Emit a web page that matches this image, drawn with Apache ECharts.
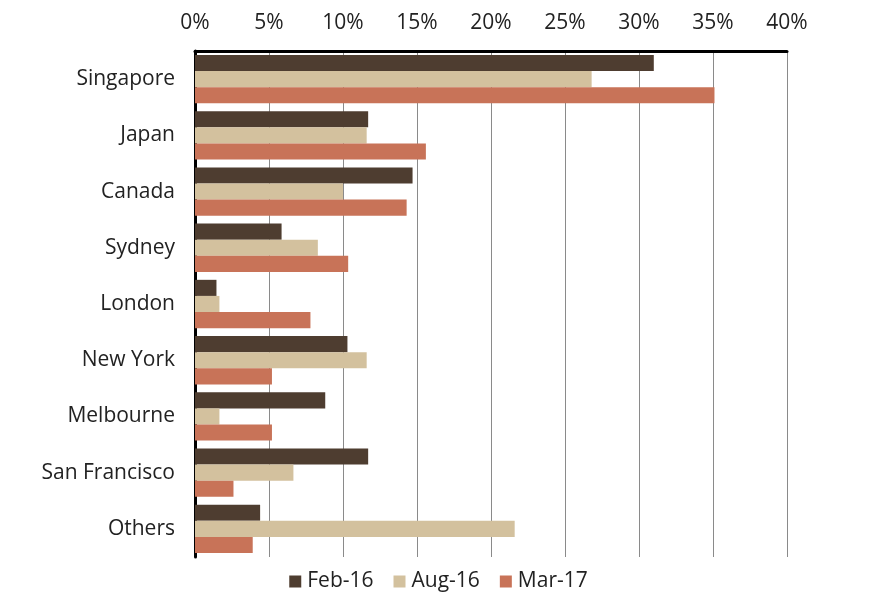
<!DOCTYPE html>
<html>
<head>
<meta charset="utf-8">
<script src="https://cdn.jsdelivr.net/npm/echarts@6/dist/echarts.min.js"></script>
<style>html,body{margin:0;padding:0;background:#fff}#c{width:877px;height:600px}</style>
</head>
<body>
<div id="c"></div>
<script>
const categories = ["Singapore","Japan","Canada","Sydney","London","New York","Melbourne","San Francisco","Others"];
const seriesNames = ["Feb-16","Aug-16","Mar-17"];
const feb16 = [31.0, 11.7, 14.7, 5.85, 1.45, 10.3, 8.8, 11.7, 4.4];
const aug16 = [26.8, 11.6, 10.0, 8.3, 1.65, 11.6, 1.65, 6.65, 21.6];
const mar17 = [35.1, 15.6, 14.3, 10.35, 7.8, 5.2, 5.2, 2.6, 3.9];
const colors = ["#4e3d30", "#d3c19e", "#c87358"];

const chart = echarts.init(document.getElementById('c'));
const font = '"Open Sans", "Noto Sans", sans-serif';
chart.setOption({
  animation: false,
  textStyle: {fontFamily: font},
  grid: {left: 195, right: 90, top: 51, bottom: 43},
  legend: {
    bottom: 3, left: 'center',
    itemWidth: 12, itemHeight: 12, itemGap: 20,
    icon: 'rect',
    textStyle: {fontSize: 21, color: '#222', fontFamily: font, padding: [0,0,0,1]},
    data: seriesNames
  },
  xAxis: {
    type: 'value', position: 'top', min: 0, max: 40, interval: 5,
    axisLine: {show: true, lineStyle: {color: '#000', width: 3}},
    axisTick: {show: false},
    splitLine: {show: true, lineStyle: {color: '#8a8a8a', width: 1}},
    axisLabel: {formatter: '{value}%', fontSize: 21, color: '#222', margin: 17, fontFamily: font}
  },
  yAxis: {
    type: 'category', data: categories, inverse: true,
    axisLine: {show: true, lineStyle: {color: '#000', width: 3}},
    axisTick: {show: false},
    axisLabel: {fontSize: 21, color: '#222', margin: 20, fontFamily: font}
  },
  series: [
    {name: seriesNames[0], type: 'bar', data: feb16, itemStyle: {color: colors[0]}, barGap: '0%', barCategoryGap: '14%'},
    {name: seriesNames[1], type: 'bar', data: aug16, itemStyle: {color: colors[1]}, barGap: '0%', barCategoryGap: '14%'},
    {name: seriesNames[2], type: 'bar', data: mar17, itemStyle: {color: colors[2]}, barGap: '0%', barCategoryGap: '14%'}
  ]
});
</script>
</body>
</html>
